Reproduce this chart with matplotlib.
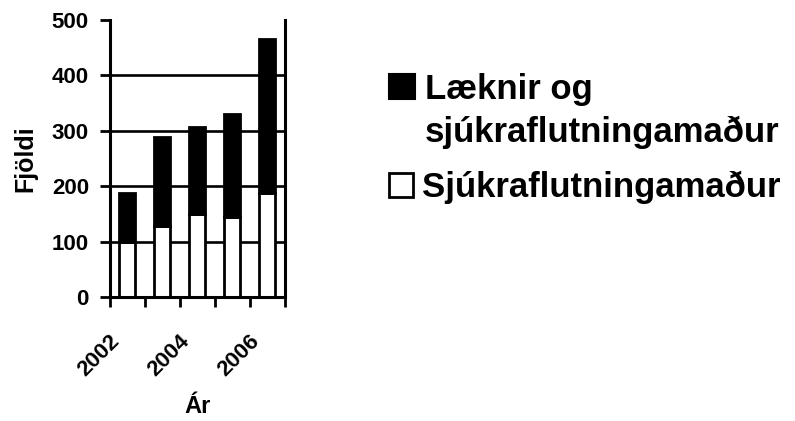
import matplotlib
matplotlib.use('Agg')

import numpy as np
import matplotlib.pyplot as plt
from matplotlib.patches import Patch

years = ['2002', '2003', '2004', '2005', '2006']
year_labels = ['2002', '2004', '2006']
sjukra = [100, 128, 150, 145, 188]          # Sjúkraflutningamaður
laeknir = [88, 160, 157, 185, 278]          # Læknir og sjúkraflutningamaður
yticks = [0, 100, 200, 300, 400, 500]

plt.rcParams['font.family'] = ['Liberation Sans', 'DejaVu Sans']
plt.rcParams['font.weight'] = 'bold'

fig = plt.figure(figsize=(7.95, 4.21), dpi=100)
ax = fig.add_axes([0.138, 0.2945, 0.220, 0.658])

x = np.arange(len(years))
w = 0.47

for y in yticks[1:-1]:
    ax.axhline(y, color='black', lw=1.9, zorder=0)

ax.bar(x, sjukra, w, color='white', edgecolor='black', linewidth=2, zorder=2)
ax.bar(x, laeknir, w, bottom=sjukra, color='black', edgecolor='black',
       linewidth=2, zorder=2)

ax.set_xlim(-0.5, len(years) - 0.5)
ax.set_ylim(0, 500)
ax.set_yticks(yticks)
ax.tick_params(axis='y', labelsize=16, length=7, width=2, pad=8)

# labels for every second year, small ticks between bars
ax.set_xticks([0 - 0.1, 2 - 0.1, 4 - 0.1])
ax.set_xticklabels(year_labels, rotation=45, ha='right', va='top')
ax.tick_params(axis='x', which='major', length=0, labelsize=16, pad=24)
ax.set_xticks(np.arange(-0.5, len(years)), minor=True)
ax.tick_params(axis='x', which='minor', length=7, width=2)

for s in ['left', 'bottom', 'right']:
    ax.spines[s].set_linewidth(2.2)
ax.spines['top'].set_visible(False)

ax.set_ylabel('Fjöldi', fontsize=18, fontweight='bold', labelpad=10)
ax.set_xlabel('Ár', fontsize=17, fontweight='bold', labelpad=11)

leg_prop = {'weight': 'bold', 'size': 25}
fig.legend([Patch(facecolor='black', edgecolor='black', linewidth=1.5),
            Patch(facecolor='none', edgecolor='none')],
           ['Læknir og', 'sjúkraflutningamaður'],
           loc='upper left', bbox_to_anchor=(0.489, 0.827),
           frameon=False, handlelength=0.75, handleheight=0.75,
           handletextpad=0.28, labelspacing=0.28, borderpad=0,
           borderaxespad=0, prop=leg_prop)
fig.legend([Patch(facecolor='white', edgecolor='black', linewidth=2)],
           ['Sjúkraflutningamaður'],
           loc='upper left', bbox_to_anchor=(0.489, 0.594),
           frameon=False, handlelength=0.69, handleheight=0.69,
           handletextpad=0.28, borderpad=0, borderaxespad=0, prop=leg_prop)

fig.savefig('out.png', dpi=100)
